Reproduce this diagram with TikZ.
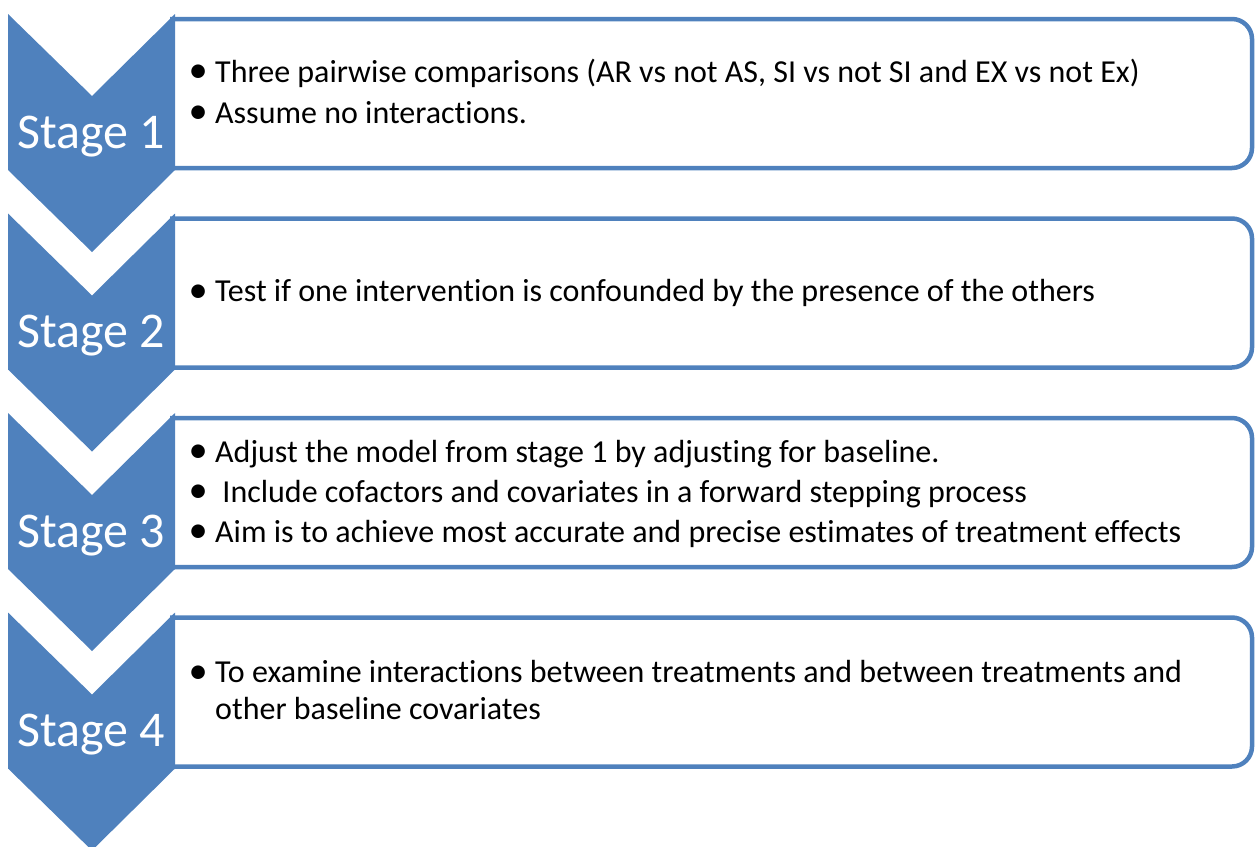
\documentclass[tikz,border=0pt]{standalone}
\usepackage{fontspec}
\setmainfont[Ligatures=NoCommon]{Carlito}
\usepackage{xcolor}
\usepackage{tikz}
\definecolor{stageblue}{HTML}{4F81BD}
\newcommand{\blt}{\makebox[23pt][l]{\hspace{-3.5pt}\raisebox{-0.5pt}{\scalebox{1.2}{•}}}}

\begin{document}
\begin{tikzpicture}[x=1pt,y=-1pt,
  chev/.style={fill=stageblue,draw=none},
  panel/.style={draw=stageblue,line width=4.5pt,rounded corners=20pt},
  stagelbl/.style={text=white,font=\fontsize{50}{50}\selectfont,anchor=base,inner sep=0pt},
  itm/.style={anchor=base west,inner sep=0pt,font=\fontsize{32}{32}\selectfont}]
\useasboundingbox (0,0) rectangle (1255,846);
% stage 1
\begin{scope}[yshift=0pt]
\draw[panel] (170,19) -- (1252,19) -- (1252,168) -- (170,168);
\fill[chev] (8,14) -- (92,96) -- (175,14) -- (175,170) -- (92,252) -- (8,170) -- cycle;
\node[stagelbl] (s1) at (91,148) {Stage 1};
\node[itm] (b1a) at (192,82) {\blt Three pairwise comparisons (AR vs not AS, SI vs not SI and EX vs not Ex)};
\node[itm] (b1b) at (192,123) {\blt Assume no interactions.};
\end{scope}
% stage 2
\begin{scope}[yshift=-199.5pt]
\draw[panel] (170,19) -- (1252,19) -- (1252,168) -- (170,168);
\fill[chev] (8,14) -- (92,96) -- (175,14) -- (175,170) -- (92,252) -- (8,170) -- cycle;
\node[stagelbl] (s2) at (91,148) {Stage 2};
\node[itm] (b2a) at (192,102) {\blt Test if one intervention is confounded by the presence of the others};
\end{scope}
% stage 3
\begin{scope}[yshift=-399pt]
\draw[panel] (170,19) -- (1252,19) -- (1252,168) -- (170,168);
\fill[chev] (8,14) -- (92,96) -- (175,14) -- (175,170) -- (92,252) -- (8,170) -- cycle;
\node[stagelbl] (s3) at (91,148) {Stage 3};
\node[itm] (b3a) at (192,63) {\blt Adjust the model from stage 1 by adjusting for baseline.};
\node[itm] (b3b) at (192,103) {\blt\ Include cofactors and covariates in a forward stepping process};
\node[itm] (b3c) at (192,143) {\blt Aim is to achieve most accurate and precise estimates of treatment effects};
\end{scope}
% stage 4
\begin{scope}[yshift=-598.5pt]
\draw[panel] (170,19) -- (1252,19) -- (1252,168) -- (170,168);
\fill[chev] (8,14) -- (92,96) -- (175,14) -- (175,170) -- (92,252) -- (8,170) -- cycle;
\node[stagelbl] (s4) at (91,148) {Stage 4};
\node[itm] (b4a) at (192,84) {\blt To examine interactions between treatments and between treatments and};
\node[itm] (b4b) at (215,121) {other baseline covariates};
\end{scope}
\end{tikzpicture}
\end{document}
